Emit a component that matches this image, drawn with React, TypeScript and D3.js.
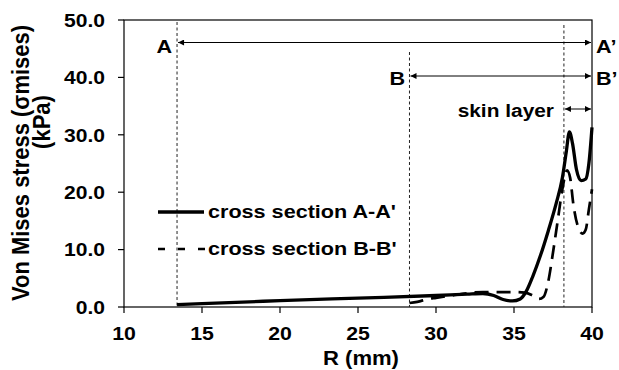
import React from "react";
import * as d3 from "d3";

const xTicks = [10, 15, 20, 25, 30, 35, 40];
const yTicks = [0, 10, 20, 30, 40, 50];

const rA = [13.4, 15, 20, 25, 30, 32, 33, 33.7, 34.3, 34.9, 35.4, 35.8, 36.2, 36.7, 37.2, 37.7, 38.1, 38.35, 38.55, 38.75, 39.0, 39.3, 39.6, 39.8, 40];
const sA = [0.4, 0.6, 1.1, 1.55, 2.0, 2.25, 2.35, 2.0, 1.3, 1.05, 1.4, 2.8, 5.3, 9, 13.3, 18, 22.5, 27, 30.5, 28.5, 24, 22, 22.3, 25, 31.3];

const rB = [28.3, 28.8, 29.5, 30, 31, 32, 33, 34, 35, 35.7, 36.2, 36.6, 36.9, 37.2, 37.5, 37.8, 38.1, 38.4, 38.6, 38.8, 39.1, 39.4, 39.6, 39.8, 40];
const sB = [0.7, 0.9, 1.4, 1.6, 2.0, 2.4, 2.6, 2.6, 2.6, 2.5, 2.0, 1.4, 1.8, 4.5, 9.5, 15, 20.5, 23.8, 22.5, 18, 14, 12.8, 13.5, 17, 20.5];

const sectionA = [13.4, 40];
const sectionB = [28.3, 40];
const skin = [38.2, 40];
const legendLabels = ["cross section A-A'", "cross section B-B'"];

const FONT = "'Liberation Sans', Arial, sans-serif";

function T({ x, y, anchor = "start", size = 18, sx = 1.18, children }: any) {
  return (
    <text
      transform={`translate(${x},${y}) scale(${sx},1)`}
      textAnchor={anchor}
      fontSize={size}
      fontWeight="bold"
      fontFamily={FONT}
      fill="#000"
    >
      {children}
    </text>
  );
}

export default function App() {
  const x = d3.scaleLinear().domain([10, 40]).range([124, 592]);
  const y = d3.scaleLinear().domain([0, 50]).range([307, 20]);
  const line = d3
    .line<[number, number]>()
    .x((d) => x(d[0]))
    .y((d) => y(d[1]))
    .curve(d3.curveMonotoneX);
  const dA = line(rA.map((r, i) => [r, sA[i]]));
  const dB = line(rB.map((r, i) => [r, sB[i]]));
  const [x0, x1] = x.range();
  const [yb, yt] = y.range();

  return (
    <svg
      width={619}
      height={370}
      style={{ position: "absolute", left: 0, top: 0, background: "#fff" }}
    >
      <defs>
        <marker id="ah" viewBox="0 0 10 10" refX="10" refY="5" markerWidth="7" markerHeight="6" orient="auto-start-reverse" markerUnits="userSpaceOnUse">
          <path d="M0,0 L10,5 L0,10 z" fill="#000" />
        </marker>
      </defs>
      <rect x={0} y={0} width={619} height={370} fill="#fff" />
      {/* frame */}
      <rect x={x0} y={yt} width={x1 - x0} height={yb - yt} fill="none" stroke="#000" strokeWidth={1.2} />
      {xTicks.map((t) => (
        <g key={t}>
          <line x1={x(t)} x2={x(t)} y1={yb} y2={yb + 6} stroke="#000" strokeWidth={1.2} />
          <T x={x(t)} y={340} anchor="middle" size={19} sx={1.12}>{t}</T>
        </g>
      ))}
      {yTicks.map((t) => (
        <g key={t}>
          <line x1={x0 - 6} x2={x0} y1={y(t)} y2={y(t)} stroke="#000" strokeWidth={1.2} />
          <T x={105} y={y(t) + 6.7} anchor="end" size={18.5} sx={1.14}>{t.toFixed(1)}</T>
        </g>
      ))}
      <T x={361} y={365} anchor="middle" size={21} sx={1.05}>R (mm)</T>
      <text transform="translate(29,163) rotate(-90) scale(1,1.12)" textAnchor="middle" fontSize={22} fontWeight="bold" fontFamily={FONT}>Von Mises stress (σmises)</text>
      <text transform="translate(50,122) rotate(-90) scale(1,1.12)" textAnchor="middle" fontSize={22} fontWeight="bold" fontFamily={FONT}>(kPa)</text>

      {/* dashed verticals */}
      <line x1={x(sectionA[0])} x2={x(sectionA[0])} y1={22} y2={yb} stroke="#222" strokeWidth={1} strokeDasharray="3,2.5" />
      <line x1={x(sectionB[0])} x2={x(sectionB[0])} y1={52} y2={yb} stroke="#222" strokeWidth={1} strokeDasharray="3,2.5" />
      <line x1={x(skin[0])} x2={x(skin[0])} y1={25} y2={yb} stroke="#222" strokeWidth={1} strokeDasharray="3,2.5" />

      {/* arrows */}
      <line x1={x(sectionA[0]) + 1} x2={x(sectionA[1]) - 1} y1={42.5} y2={42.5} stroke="#000" strokeWidth={1} markerStart="url(#ah)" markerEnd="url(#ah)" />
      <line x1={x(sectionB[0]) + 1} x2={x(sectionB[1]) - 1} y1={76} y2={76} stroke="#000" strokeWidth={1} markerStart="url(#ah)" markerEnd="url(#ah)" />
      <line x1={x(skin[0]) + 1} x2={x(skin[1]) - 1} y1={109} y2={109} stroke="#000" strokeWidth={1} markerStart="url(#ah)" markerEnd="url(#ah)" />
      <T x={172} y={53} anchor="end" size={18} sx={1.2}>A</T>
      <T x={596} y={53} size={18} sx={1.2}>A’</T>
      <T x={405} y={85} anchor="end" size={18} sx={1.2}>B</T>
      <T x={596} y={85} size={18} sx={1.2}>B’</T>
      <T x={554} y={117} anchor="end" size={18.5} sx={1.13}>skin layer</T>

      {/* curves */}
      <path d={dA ?? ""} fill="none" stroke="#000" strokeWidth={3.3} />
      <path d={dB ?? ""} fill="none" stroke="#000" strokeWidth={2.7} strokeDasharray="14,8" />

      {/* legend */}
      <line x1={158} x2={204} y1={212} y2={212} stroke="#000" strokeWidth={3.3} />
      <T x={208} y={218} size={18} sx={1.2}>{legendLabels[0]}</T>
      <line x1={158} x2={205} y1={249} y2={249} stroke="#000" strokeWidth={2.7} strokeDasharray="7,13" />
      <T x={208} y={255} size={18} sx={1.2}>{legendLabels[1]}</T>
    </svg>
  );
}
